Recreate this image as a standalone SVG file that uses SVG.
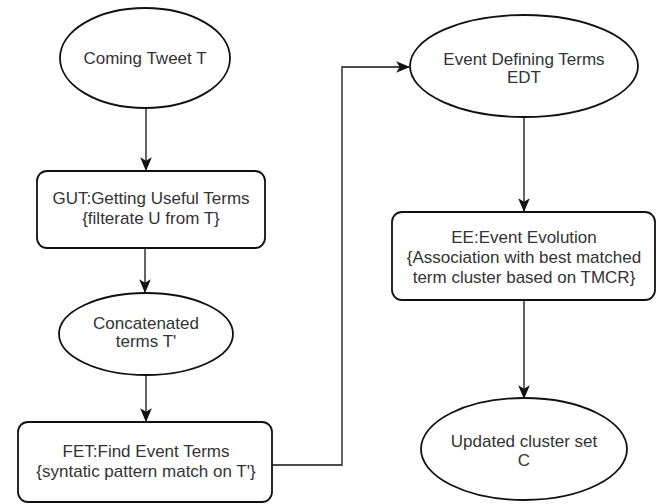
<svg xmlns="http://www.w3.org/2000/svg" width="663" height="504" viewBox="0 0 663 504">
<style>
.shape{fill:#fff;stroke:#111;stroke-width:1.8}
.lbl{font-family:"Liberation Sans",Arial,sans-serif;font-size:17px;fill:#333;text-anchor:middle}
.conn{fill:none;stroke:#111;stroke-width:1.3}
</style>
<defs>
<marker id="arr" markerUnits="userSpaceOnUse" markerWidth="14" markerHeight="14" viewBox="0 0 12 12" refX="11" refY="6" orient="auto">
<path d="M0,1 L12,6 L0,11 L3,6 z" fill="#111"/>
</marker>
</defs>
<rect width="663" height="504" fill="#fff"/>
<g id="connectors">
<line class="conn" x1="146" y1="108" x2="146" y2="170" marker-end="url(#arr)"/>
<line class="conn" x1="145" y1="248" x2="145" y2="292" marker-end="url(#arr)"/>
<line class="conn" x1="146" y1="375" x2="146" y2="421" marker-end="url(#arr)"/>
<polyline class="conn" points="272,465 342,465 342,67 409,67" marker-end="url(#arr)"/>
<line class="conn" x1="524" y1="117" x2="524" y2="211" marker-end="url(#arr)"/>
<line class="conn" x1="524" y1="300" x2="524" y2="398" marker-end="url(#arr)"/>
</g>
<g id="coming-tweet">
<ellipse class="shape" cx="145" cy="58" rx="85" ry="50"/>
<text class="lbl" x="145" y="64">Coming Tweet T</text>
</g>
<g id="gut">
<rect class="shape" x="37" y="171" width="228" height="77" rx="10"/>
<text class="lbl" x="151" y="204">GUT:Getting Useful Terms</text>
<text class="lbl" x="151" y="224">{filterate U from T}</text>
</g>
<g id="concatenated">
<ellipse class="shape" cx="146" cy="334" rx="87" ry="41"/>
<text class="lbl" x="146" y="329">Concatenated</text>
<text class="lbl" x="146" y="347">terms T'</text>
</g>
<g id="fet">
<rect class="shape" x="18" y="422" width="254" height="80" rx="10"/>
<text class="lbl" x="146" y="457">FET:Find Event Terms</text>
<text class="lbl" x="146" y="477">{syntatic pattern match on T'}</text>
</g>
<g id="edt">
<ellipse class="shape" cx="524" cy="66" rx="114" ry="51"/>
<text class="lbl" x="524" y="65">Event Defining Terms</text>
<text class="lbl" x="524" y="83">EDT</text>
</g>
<g id="ee">
<rect class="shape" x="392" y="212" width="263" height="88" rx="10"/>
<text class="lbl" x="524" y="243">EE:Event Evolution</text>
<text class="lbl" x="524" y="263">{Association with best matched</text>
<text class="lbl" x="524" y="283">term cluster based on TMCR}</text>
</g>
<g id="updated">
<ellipse class="shape" cx="524" cy="449" rx="103" ry="51"/>
<text class="lbl" x="524" y="447">Updated cluster set</text>
<text class="lbl" x="524" y="466">C</text>
</g>
</svg>
